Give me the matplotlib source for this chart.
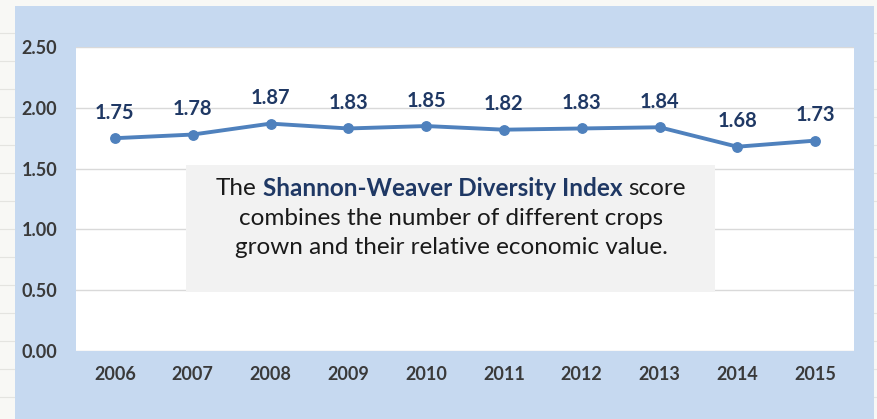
import matplotlib
matplotlib.use("Agg")
import matplotlib.pyplot as plt
from matplotlib.patches import Rectangle
from matplotlib.lines import Line2D

years = ["2006", "2007", "2008", "2009", "2010", "2011", "2012", "2013", "2014", "2015"]
scores = [1.75, 1.78, 1.87, 1.83, 1.85, 1.82, 1.83, 1.84, 1.68, 1.73]
y_ticks = [0.0, 0.5, 1.0, 1.5, 2.0, 2.5]
note_lines = [
    [("The ", "normal", "#1a1a1a"), ("Shannon-Weaver Diversity Index", "bold", "#1f3864"), (" score", "normal", "#1a1a1a")],
    [("combines the number of different crops", "normal", "#1a1a1a")],
    [("grown and their relative economic value.", "normal", "#1a1a1a")],
]

FONT = ["Lato", "DejaVu Sans"]
plt.rcParams["font.family"] = FONT

W, H = 878, 419
fig = plt.figure(figsize=(W / 100, H / 100), dpi=100, facecolor="#f8f8f5")

# light blue chart area (drawn as a background axes so it sits below the plot)
bg = fig.add_axes([15 / W, 0, (874 - 15) / W, (H - 6) / H], zorder=-10)
bg.set_facecolor("#c6d9f0")
bg.set_xticks([])
bg.set_yticks([])
for s in bg.spines.values():
    s.set_visible(False)

# faint spreadsheet ticks at the edges
for yp in range(33, 419, 28):
    fig.add_artist(Line2D([0.0, 15 / W], [1 - yp / H, 1 - yp / H], transform=fig.transFigure,
                          color="#e4e4e0", lw=0.8, zorder=-20))
    fig.add_artist(Line2D([874 / W, 1.0], [1 - yp / H, 1 - yp / H], transform=fig.transFigure,
                          color="#e4e4e0", lw=0.8, zorder=-20))

ax = fig.add_axes([76 / W, (H - 351) / H, (854 - 76) / W, (351 - 47) / H], zorder=1)
ax.set_facecolor("white")
x = list(range(len(years)))
ax.plot(x, scores, color="#4f81bd", lw=2.8, marker="o", markersize=6.8,
        solid_capstyle="round", zorder=3)
for xi, v in zip(x, scores):
    ax.annotate(f"{v:.2f}", (xi, v), xytext=(0, 11), textcoords="offset points",
                ha="center", va="bottom", fontsize=14.5, fontweight="bold",
                color="#1f3864", zorder=4)

ax.set_xlim(-0.5, len(years) - 0.5)
ax.set_ylim(0, 2.5)
ax.set_yticks(y_ticks)
ax.set_yticklabels([f"{t:.2f}" for t in y_ticks])
ax.set_xticks(x)
ax.set_xticklabels(years)
ax.grid(axis="y", color="#d9d9d9", lw=1.0)
ax.set_axisbelow(True)
for s in ax.spines.values():
    s.set_visible(False)
ax.tick_params(length=0)
ax.tick_params(axis="x", pad=11)
for lab in ax.get_xticklabels() + ax.get_yticklabels():
    lab.set_fontsize(13)
    lab.set_fontweight("bold")
    lab.set_color("#3a3a3a")
for lab in ax.get_yticklabels():
    lab.set_horizontalalignment("left")
ax.tick_params(axis="y", pad=39)

# note box
ax.add_patch(Rectangle((0.1414, 0.194), 0.821 - 0.1414, 0.612 - 0.194, transform=ax.transAxes,
                       facecolor="#f2f2f2", edgecolor="none", zorder=5))

fig.canvas.draw()
renderer = fig.canvas.get_renderer()
FS = 17.5

def width_of(s, weight):
    t = fig.text(0, 0, s, fontsize=FS, fontweight=weight)
    w = t.get_window_extent(renderer).width
    t.remove()
    return w

space_w = width_of("a a", "normal") - width_of("aa", "normal")
center_x = 451
line_ys = [188, 218, 247]
for pieces, ly in zip(note_lines, line_ys):
    widths = []
    for s, wt, c in pieces:
        core = s.strip()
        nsp = len(s) - len(s.lstrip()) + len(s) - len(s.rstrip())
        widths.append(width_of(core, wt) + nsp * space_w)
    total = sum(widths)
    xpos = center_x - total / 2
    for (s, wt, c), wdt in zip(pieces, widths):
        lead = (len(s) - len(s.lstrip())) * space_w
        fig.text((xpos + lead) / W, 1 - ly / H, s.strip(), fontsize=FS, fontweight=wt,
                 color=c, ha="left", va="center", zorder=6)
        xpos += wdt

fig.savefig("out.png", dpi=100, facecolor=fig.get_facecolor())
